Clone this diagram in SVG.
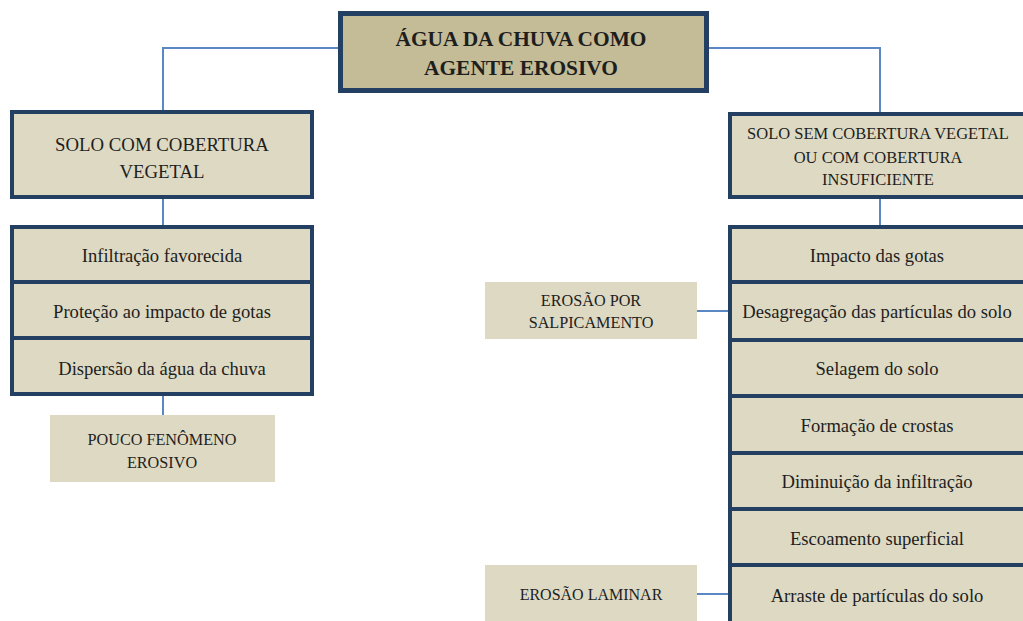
<svg xmlns="http://www.w3.org/2000/svg" width="1023" height="621" viewBox="0 0 1023 621">
<style>
.bx{fill:#ddd9c3;stroke:#233f62;stroke-width:4}
.hd{fill:#c4bc96;stroke:#233f62;stroke-width:5}
.pl{fill:#ddd9c3}
.ln{stroke:#5b87c5;stroke-width:2;fill:none}
</style>
<rect width="1023" height="621" fill="#fff"/>
<g id="connectors">
<polyline class="ln" points="340,48 163,48 163,112"/>
<polyline class="ln" points="707,48 880,48 880,114"/>
<line class="ln" x1="163" y1="198" x2="163" y2="226"/>
<line class="ln" x1="880" y1="198" x2="880" y2="226"/>
<line class="ln" x1="163" y1="396" x2="163" y2="415"/>
<line class="ln" x1="697" y1="311" x2="730" y2="311"/>
<line class="ln" x1="697" y1="594" x2="730" y2="594"/>
</g>
<g id="root">
<rect class="hd" x="340.5" y="13.5" width="366" height="77"/>
<text font-family="Liberation Serif" font-size="21.4" font-weight="bold" fill="#1e1e1e" text-anchor="middle" x="521" y="46">ÁGUA DA CHUVA COMO</text>
<text font-family="Liberation Serif" font-size="21.4" font-weight="bold" fill="#1e1e1e" text-anchor="middle" x="521" y="75">AGENTE EROSIVO</text>
</g>
<g id="left-head">
<rect class="bx" x="12" y="112" width="300" height="85"/>
<text font-family="Liberation Serif" font-size="18.8" fill="#1e1e1e" text-anchor="middle" x="162" y="151">SOLO COM COBERTURA</text>
<text font-family="Liberation Serif" font-size="18.8" fill="#1e1e1e" text-anchor="middle" x="162" y="178">VEGETAL</text>
</g>
<g id="left-list">
<rect class="bx" x="12" y="227" width="300" height="55"/>
<text font-family="Liberation Serif" font-size="18.6" fill="#1e1e1e" text-anchor="middle" x="162" y="262">Infiltração favorecida</text>
<rect class="bx" x="12" y="282" width="300" height="56"/>
<text font-family="Liberation Serif" font-size="18.6" fill="#1e1e1e" text-anchor="middle" x="162" y="318">Proteção ao impacto de gotas</text>
<rect class="bx" x="12" y="338" width="300" height="56"/>
<text font-family="Liberation Serif" font-size="18.6" fill="#1e1e1e" text-anchor="middle" x="162" y="375">Dispersão da água da chuva</text>
</g>
<g id="pouco">
<rect class="pl" x="50" y="415" width="225" height="67"/>
<text font-family="Liberation Serif" font-size="16.2" fill="#1e1e1e" text-anchor="middle" x="162" y="445">POUCO FENÔMENO</text>
<text font-family="Liberation Serif" font-size="16.2" fill="#1e1e1e" text-anchor="middle" x="162" y="468">EROSIVO</text>
</g>
<g id="right-head">
<rect class="bx" x="730" y="114" width="300" height="83"/>
<text font-family="Liberation Serif" font-size="16.5" fill="#1e1e1e" text-anchor="middle" x="878" y="139">SOLO SEM COBERTURA VEGETAL</text>
<text font-family="Liberation Serif" font-size="16.5" fill="#1e1e1e" text-anchor="middle" x="878" y="163">OU COM COBERTURA</text>
<text font-family="Liberation Serif" font-size="16.5" fill="#1e1e1e" text-anchor="middle" x="878" y="185">INSUFICIENTE</text>
</g>
<g id="right-list">
<rect class="bx" x="730" y="227" width="300" height="55"/>
<text font-family="Liberation Serif" font-size="18.6" fill="#1e1e1e" text-anchor="middle" x="877" y="262">Impacto das gotas</text>
<rect class="bx" x="730" y="282" width="300" height="58"/>
<text font-family="Liberation Serif" font-size="18.6" fill="#1e1e1e" text-anchor="middle" x="877" y="318">Desagregação das partículas do solo</text>
<rect class="bx" x="730" y="340" width="300" height="56"/>
<text font-family="Liberation Serif" font-size="18.6" fill="#1e1e1e" text-anchor="middle" x="877" y="375">Selagem do solo</text>
<rect class="bx" x="730" y="396" width="300" height="57"/>
<text font-family="Liberation Serif" font-size="18.6" fill="#1e1e1e" text-anchor="middle" x="877" y="432">Formação de crostas</text>
<rect class="bx" x="730" y="453" width="300" height="56"/>
<text font-family="Liberation Serif" font-size="18.6" fill="#1e1e1e" text-anchor="middle" x="877" y="488">Diminuição da infiltração</text>
<rect class="bx" x="730" y="509" width="300" height="56"/>
<text font-family="Liberation Serif" font-size="18.6" fill="#1e1e1e" text-anchor="middle" x="877" y="545">Escoamento superficial</text>
<rect class="bx" x="730" y="565" width="300" height="60"/>
<text font-family="Liberation Serif" font-size="18.6" fill="#1e1e1e" text-anchor="middle" x="877" y="602">Arraste de partículas do solo</text>
</g>
<g id="salpicamento">
<rect class="pl" x="485" y="282" width="212" height="57"/>
<text font-family="Liberation Serif" font-size="16.2" fill="#1e1e1e" text-anchor="middle" x="591" y="306">EROSÃO POR</text>
<text font-family="Liberation Serif" font-size="16.2" fill="#1e1e1e" text-anchor="middle" x="591" y="328">SALPICAMENTO</text>
</g>
<g id="laminar">
<rect class="pl" x="485" y="565" width="212" height="56"/>
<text font-family="Liberation Serif" font-size="16" fill="#1e1e1e" text-anchor="middle" x="591" y="600">EROSÃO LAMINAR</text>
</g>
</svg>
